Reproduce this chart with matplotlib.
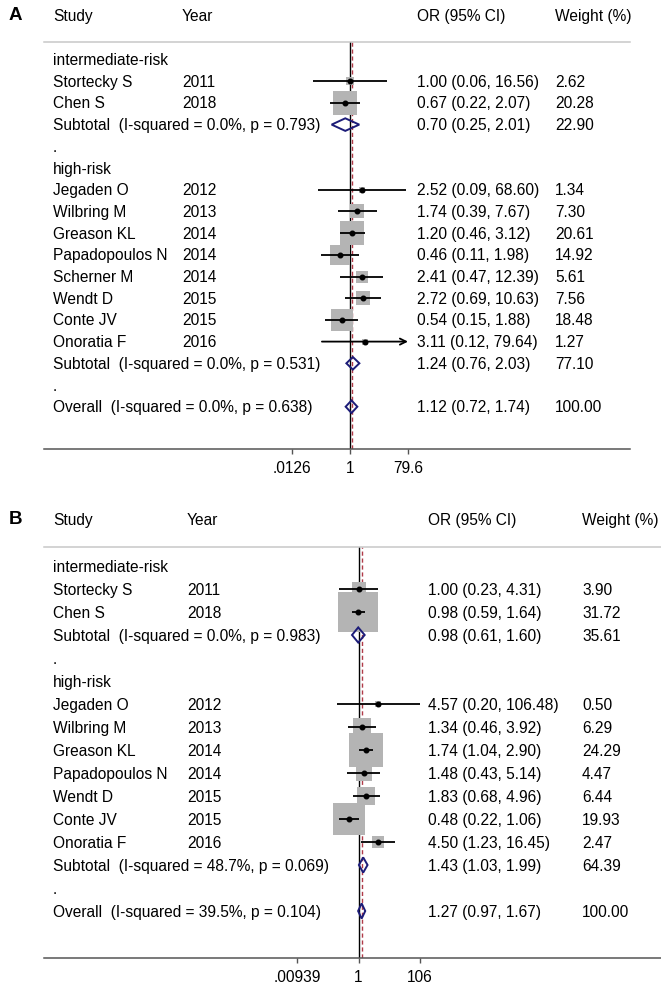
import numpy as np
import matplotlib.pyplot as plt
from matplotlib.ticker import NullLocator
from matplotlib.transforms import blended_transform_factory, offset_copy

plt.rcParams['font.family'] = ['Liberation Sans', 'DejaVu Sans']

# ---------------- panel A ----------------
studies_a = ["Stortecky S", "Chen S", "Jegaden O", "Wilbring M", "Greason KL",
             "Papadopoulos N", "Scherner M", "Wendt D", "Conte JV", "Onoratia F"]
years_a = [2011, 2018, 2012, 2013, 2014, 2014, 2014, 2015, 2015, 2016]
groups_a = ["intermediate-risk"] * 2 + ["high-risk"] * 8
or_a = [1.00, 0.67, 2.52, 1.74, 1.20, 0.46, 2.41, 2.72, 0.54, 3.11]
lo_a = [0.06, 0.22, 0.09, 0.39, 0.46, 0.11, 0.47, 0.69, 0.15, 0.12]
hi_a = [16.56, 2.07, 68.60, 7.67, 3.12, 1.98, 12.39, 10.63, 1.88, 79.64]
w_a = [2.62, 20.28, 1.34, 7.30, 20.61, 14.92, 5.61, 7.56, 18.48, 1.27]
arrow_a = [0, 0, 0, 0, 0, 0, 0, 0, 0, 1]
sub_or_a = [0.70, 1.24]
sub_lo_a = [0.25, 0.76]
sub_hi_a = [2.01, 2.03]
sub_w_a = [22.90, 77.10]
sub_i2_a = [0.0, 0.0]
sub_p_a = [0.793, 0.531]
overall_a = [1.12, 0.72, 1.74, 100.00, 0.0, 0.638]
ticks_a = [1 / 79.64, 1, 79.64]
ticklabels_a = [".0126", "1", "79.6"]

# ---------------- panel B ----------------
studies_b = ["Stortecky S", "Chen S", "Jegaden O", "Wilbring M", "Greason KL",
             "Papadopoulos N", "Wendt D", "Conte JV", "Onoratia F"]
years_b = [2011, 2018, 2012, 2013, 2014, 2014, 2015, 2015, 2016]
groups_b = ["intermediate-risk"] * 2 + ["high-risk"] * 7
or_b = [1.00, 0.98, 4.57, 1.34, 1.74, 1.48, 1.83, 0.48, 4.50]
lo_b = [0.23, 0.59, 0.20, 0.46, 1.04, 0.43, 0.68, 0.22, 1.23]
hi_b = [4.31, 1.64, 106.48, 3.92, 2.90, 5.14, 4.96, 1.06, 16.45]
w_b = [3.90, 31.72, 0.50, 6.29, 24.29, 4.47, 6.44, 19.93, 2.47]
arrow_b = [0, 0, 0, 0, 0, 0, 0, 0, 0]
sub_or_b = [0.98, 1.43]
sub_lo_b = [0.61, 1.03]
sub_hi_b = [1.60, 1.99]
sub_w_b = [35.61, 64.39]
sub_i2_b = [0.0, 48.7]
sub_p_b = [0.983, 0.069]
overall_b = [1.27, 0.97, 1.67, 100.00, 39.5, 0.104]
ticks_b = [1 / 106.48, 1, 106.48]
ticklabels_b = [".00939", "1", "106"]

group_names = ["intermediate-risk", "high-risk"]

W, H = 661, 989
FS = 11.2
BOX = '#b4b4b4'
NAVY = '#1c1c78'
RED = '#b03a48'

fig = plt.figure(figsize=(W / 100, H / 100), dpi=100)


def draw_panel(letter, studies, years, groups, ors, los, his, ws, arrows,
               s_or, s_lo, s_hi, s_w, s_i2, s_p, overall, ticks, ticklabels,
               lay):
    # layout in pixels
    left, right = lay['left'], lay['right']
    top, bottom = lay['top'], lay['bottom']
    ax = fig.add_axes([left / W, 1 - bottom / H, (right - left) / W, (bottom - top) / H])
    ppd = lay['ppd']
    null = lay['null']
    ax.set_xscale('log')
    ax.set_xlim(10 ** ((left - null) / ppd), 10 ** ((right - null) / ppd))
    r0, step = lay['row0'], lay['step']
    ax.set_ylim((bottom - r0) / step, (top - r0) / step)

    # text placed on its baseline, shifted down so caps are centred on the row
    tr = offset_copy(blended_transform_factory(fig.transFigure, ax.transData),
                     fig=fig, x=0, y=-4.0, units='points')
    cx = [c / W for c in lay['cols']]

    def txt(col, y, s, **kw):
        ax.text(cx[col], y, s, transform=tr, fontsize=FS, va='baseline',
                ha='left', clip_on=False, **kw)

    hdr = (lay['header'] - r0) / step
    for i, h in enumerate(["Study", "Year", "OR (95% CI)", "Weight (%)"]):
        txt(i, hdr, h)
    fig.text(15 / W, 1 - lay['header'] / H, letter, fontsize=13.5,
             fontweight='bold', ha='center', va='center')

    ax.axvline(1, color='black', lw=1.0, zorder=1)
    ax.axvline(overall[0], color=RED, lw=1.0, ls=(0, (3, 2)), zorder=1.5)

    row = 0
    for g, gname in enumerate(group_names):
        txt(0, row, gname)
        row += 1
        for i in range(len(studies)):
            if groups[i] != gname:
                continue
            txt(0, row, studies[i])
            txt(1, row, str(years[i]))
            txt(2, row, f"{ors[i]:.2f} ({los[i]:.2f}, {his[i]:.2f})")
            txt(3, row, f"{ws[i]:.2f}")
            side = lay['box'] * np.sqrt(ws[i]) * 0.72
            ax.scatter([ors[i]], [row], s=side ** 2, marker='s', color=BOX,
                       linewidths=0, zorder=2)
            if arrows[i]:
                ax.annotate('', xy=(his[i], row), xytext=(los[i], row),
                            arrowprops=dict(arrowstyle='->', lw=1.3, color='black',
                                            shrinkA=0, shrinkB=0, mutation_scale=11),
                            zorder=3)
            else:
                ax.plot([los[i], his[i]], [row, row], color='black', lw=1.3,
                        solid_capstyle='butt', zorder=3)
            ax.plot([ors[i]], [row], 'o', color='black', ms=3.3, zorder=4)
            row += 1
        txt(0, row, f"Subtotal  (I-squared = {s_i2[g]:.1f}%, p = {s_p[g]:.3f})")
        txt(2, row, f"{s_or[g]:.2f} ({s_lo[g]:.2f}, {s_hi[g]:.2f})")
        txt(3, row, f"{s_w[g]:.2f}")
        hd = lay['dia']
        ax.fill([s_lo[g], s_or[g], s_hi[g], s_or[g]], [row, row - hd, row, row + hd],
                facecolor='none', edgecolor=NAVY, lw=1.4, zorder=3)
        row += 1
        txt(0, row, ".")
        row += 1
    o_or, o_lo, o_hi, o_w, o_i2, o_p = overall
    txt(0, row, f"Overall  (I-squared = {o_i2:.1f}%, p = {o_p:.3f})")
    txt(2, row, f"{o_or:.2f} ({o_lo:.2f}, {o_hi:.2f})")
    txt(3, row, f"{o_w:.2f}")
    hd = lay['dia']
    ax.fill([o_lo, o_or, o_hi, o_or], [row, row - hd, row, row + hd],
            facecolor='none', edgecolor=NAVY, lw=1.4, zorder=3)

    for s in ['left', 'right']:
        ax.spines[s].set_visible(False)
    ax.spines['top'].set_color('#c8c8c8')
    ax.spines['top'].set_linewidth(1.1)
    ax.spines['bottom'].set_color('#555555')
    ax.spines['bottom'].set_linewidth(1.1)
    ax.set_yticks([])
    ax.set_xticks(ticks)
    ax.set_xticklabels(ticklabels)
    ax.xaxis.set_minor_locator(NullLocator())
    ax.tick_params(axis='x', direction='out', length=3.8, width=1.0,
                   color='#555555', labelsize=FS, pad=5)
    return ax


draw_panel("A", studies_a, years_a, groups_a, or_a, lo_a, hi_a, w_a, arrow_a,
           sub_or_a, sub_lo_a, sub_hi_a, sub_w_a, sub_i2_a, sub_p_a, overall_a,
           ticks_a, ticklabels_a,
           dict(left=44, right=630, top=42, bottom=449, null=350, ppd=30.5,
                row0=59.5, step=21.7, header=15, cols=[53, 182, 417, 555],
                box=5.29, dia=0.29))

draw_panel("B", studies_b, years_b, groups_b, or_b, lo_b, hi_b, w_b, arrow_b,
           sub_or_b, sub_lo_b, sub_hi_b, sub_w_b, sub_i2_b, sub_p_b, overall_b,
           ticks_b, ticklabels_b,
           dict(left=44, right=661, top=547, bottom=958, null=358.5, ppd=30.3,
                row0=566, step=23.0, header=519, cols=[53, 187, 428, 582],
                box=7.1, dia=0.33))

fig.savefig('out.png', dpi=100)
